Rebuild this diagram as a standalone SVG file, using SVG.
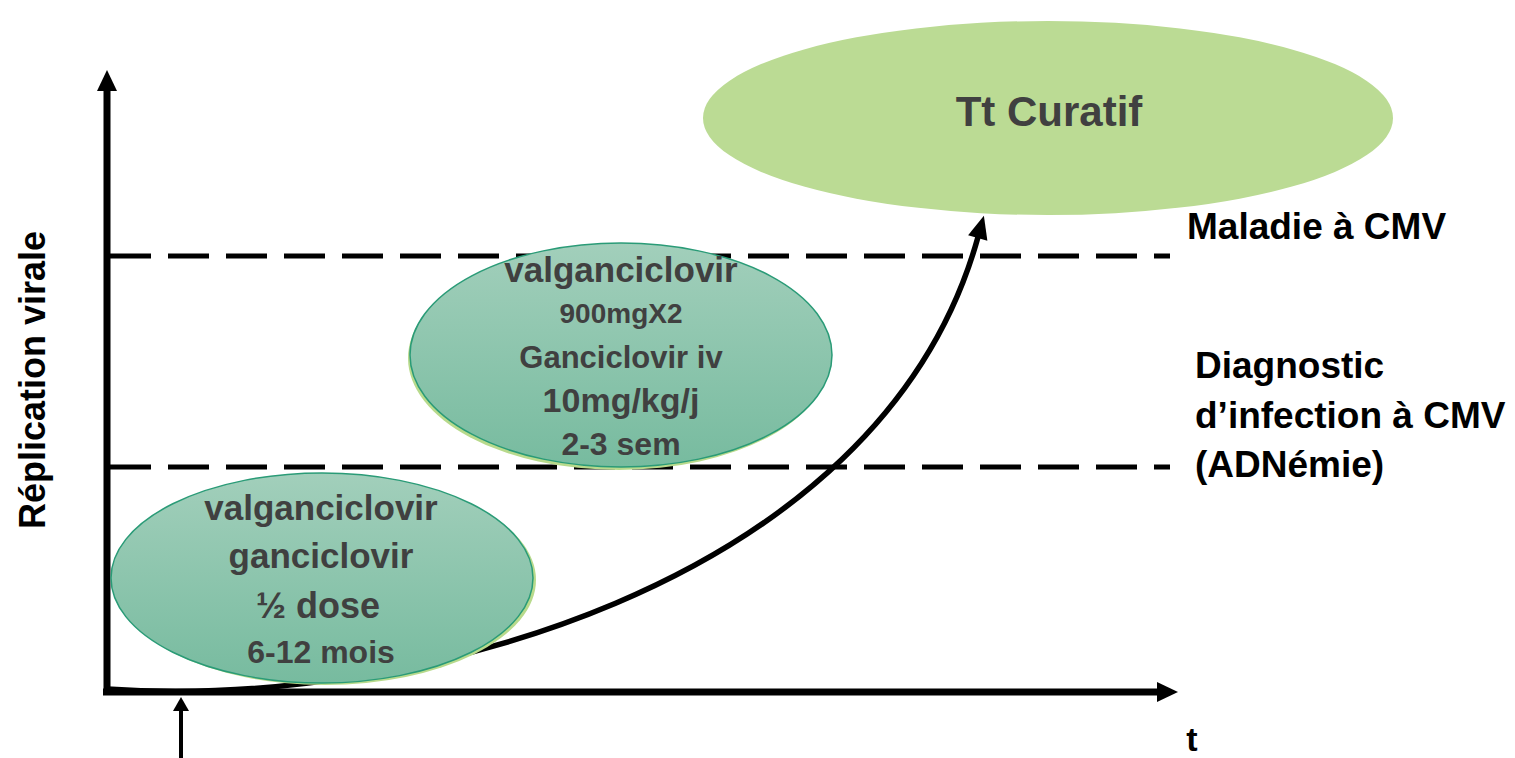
<svg xmlns="http://www.w3.org/2000/svg" width="1515" height="758" viewBox="0 0 1515 758">
<style>
.axis{stroke:#000;stroke-width:7;fill:none}
.dash{stroke:#000;stroke-width:5;stroke-dasharray:41 17;fill:none}
.curve{stroke:#000;stroke-width:5.5;fill:none}
.t{font-family:"Liberation Sans",Arial,sans-serif;font-weight:bold;text-anchor:middle}
.grey{fill:#404040}
.blk{fill:#000}
.lbl{font-family:"Liberation Sans",Arial,sans-serif;font-weight:bold;fill:#000}
.teal{fill:url(#tealGrad);stroke:#2a9b77;stroke-width:1.5}
.shadow{fill:#b8da8c}
</style>
<defs>
<linearGradient id="tealGrad" x1="0" y1="0" x2="0" y2="1">
<stop offset="0" stop-color="#a2cfbb"/>
<stop offset="1" stop-color="#77bb9f"/>
</linearGradient>
<marker id="arrowBig" markerUnits="userSpaceOnUse" viewBox="0 -12 24 24" markerWidth="24" markerHeight="24" refX="0" refY="0" orient="auto" overflow="visible">
<path d="M0,-10 L21,0 L0,10 z" fill="#000"/>
</marker>
<marker id="arrowSmall" markerUnits="userSpaceOnUse" viewBox="0 -10 20 20" markerWidth="20" markerHeight="20" refX="0" refY="0" orient="auto" overflow="visible">
<path d="M0,-8 L14,0 L0,8 z" fill="#000"/>
</marker>
<marker id="arrowCurve" markerUnits="userSpaceOnUse" viewBox="0 -12 26 24" markerWidth="26" markerHeight="24" refX="0" refY="0" orient="auto" overflow="visible">
<path d="M-1,-10 L22,0 L-1,10 z" fill="#000"/>
</marker>
</defs>

<g id="thresholds">
<line class="dash" x1="110" y1="256" x2="1170" y2="256"/>
<line class="dash" x1="110" y1="467" x2="1170" y2="467"/>
</g>

<g id="connectors">
<line class="axis" x1="107" y1="695" x2="107" y2="91" marker-end="url(#arrowBig)"/>
<line class="axis" x1="103" y1="692" x2="1157" y2="692" marker-end="url(#arrowBig)"/>
<line stroke="#000" stroke-width="4" x1="181" y1="758" x2="181" y2="711" marker-end="url(#arrowSmall)"/>
<path class="curve" d="M107,689 C400,710 880,590 978,237" marker-end="url(#arrowCurve)"/>
</g>

<g id="node-curatif">
<ellipse cx="1048" cy="118" rx="345" ry="97" fill="#bbdb94"/>
<text class="t grey" x="1049" y="126" font-size="42">Tt Curatif</text>
</g>

<g id="node-curatif-dose">
<ellipse class="shadow" cx="619" cy="358" rx="211" ry="112"/>
<ellipse class="teal" cx="621" cy="355" rx="211" ry="112"/>
<text class="t grey" x="621" y="282" font-size="35">valganciclovir</text>
<text class="t grey" x="621" y="323" font-size="28">900mgX2</text>
<text class="t grey" x="621" y="368" font-size="31">Ganciclovir iv</text>
<text class="t grey" x="621" y="412" font-size="34">10mg/kg/j</text>
<text class="t grey" x="621" y="455" font-size="32">2-3 sem</text>
</g>

<g id="node-prophylaxie">
<ellipse class="shadow" cx="325" cy="580" rx="211" ry="105"/>
<ellipse class="teal" cx="322" cy="578" rx="211" ry="105"/>
<text class="t grey" x="321" y="520" font-size="35">valganciclovir</text>
<text class="t grey" x="321" y="568" font-size="35">ganciclovir</text>
<text class="t grey" x="318" y="618" font-size="36">½ dose</text>
<text class="t grey" x="321" y="663" font-size="32">6-12 mois</text>
</g>

<g id="label-maladie">
<text class="lbl" x="1187" y="239" font-size="37">Maladie à CMV</text>
</g>

<g id="label-diagnostic">
<text class="lbl" x="1195" y="378" font-size="37">Diagnostic</text>
<text class="lbl" x="1195" y="428" font-size="37">d’infection à CMV</text>
<text class="lbl" x="1195" y="477" font-size="37">(ADNémie)</text>
</g>

<g id="label-y">
<text class="t blk" transform="translate(45,380) rotate(-90)" font-size="36">Réplication virale</text>
</g>

<g id="label-t">
<text class="t blk" x="1192" y="751" font-size="34">t</text>
</g>
</svg>
